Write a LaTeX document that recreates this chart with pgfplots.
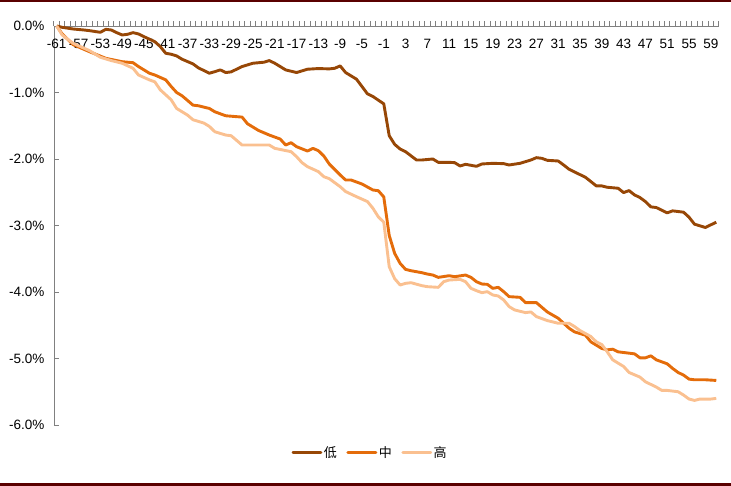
\documentclass[border=0pt]{standalone}
\usepackage{pgfplots}
\pgfplotsset{compat=1.18}
\usepackage{fontspec}
\setmainfont{Liberation Sans}
\newfontfamily\cjk{Noto Sans CJK SC}
\definecolor{cLow}{HTML}{974706}
\definecolor{cMid}{HTML}{E46C0A}
\definecolor{cHigh}{HTML}{FAC090}
\definecolor{frame}{HTML}{5A0000}
\definecolor{axgray}{HTML}{808080}
\begin{document}
\begin{tikzpicture}
\path[use as bounding box] (0pt,0pt) rectangle (731pt,486pt);
\draw[frame, line width=2.5pt] (0pt,484.75pt) -- (731pt,484.75pt);
\draw[frame, line width=3pt] (0pt,1.5pt) -- (731pt,1.5pt);
\begin{axis}[
  at={(54pt,61pt)}, anchor=south west,
  scale only axis, width=665pt, height=399pt,
  xmin=-61.5, xmax=60.5, ymin=-6, ymax=0,
  axis x line=top, axis y line=left,
  axis line style={draw=axgray, line width=0.8pt, -},
  clip=false,
  ytick={-6,-5,...,0},
  yticklabels={-6.0\%,-5.0\%,-4.0\%,-3.0\%,-2.0\%,-1.0\%,0.0\%},
  ytick align=inside,
  xtick={-61.5,-60.5,...,60.5},
  xticklabels={-61,{},{},{},-57,{},{},{},-53,{},{},{},-49,{},{},{},-45,{},{},{},-41,{},{},{},-37,{},{},{},-33,{},{},{},-29,{},{},{},-25,{},{},{},-21,{},{},{},-17,{},{},{},-13,{},{},{},-9,{},{},{},-5,{},{},{},-1,{},{},{},3,{},{},{},7,{},{},{},11,{},{},{},15,{},{},{},19,{},{},{},23,{},{},{},27,{},{},{},31,{},{},{},35,{},{},{},39,{},{},{},43,{},{},{},47,{},{},{},51,{},{},{},55,{},{},{},59,{},{}},
  xticklabel style={xshift=2.725pt, yshift=-31pt},
  xtick align=outside,
  every x tick/.style={draw=axgray, line width=1pt},
  major tick length=5pt,
  every y tick/.style={draw=axgray, line width=0.9pt},
  yticklabel style={xshift=-6pt},
  tick label style={font=\fontsize{13.5}{15}\selectfont},
  legend columns=3,
  legend style={draw=none, at={(0.475,-0.07)}, anchor=center,
    font=\cjk\fontsize{13}{15}\selectfont, inner sep=0pt,
    nodes={inner sep=1.5pt},
    /tikz/every even column/.append style={column sep=8pt}},
  legend image code/.code={\draw[#1, line cap=round] (0pt,0pt) -- (28pt,0pt);},
  every axis plot/.append style={line width=2.9pt, line join=round, no marks},
]
\addplot[cLow] coordinates {
(-61,0) (-60,-0.02) (-58,-0.045) (-56,-0.06) (-55,-0.07) (-53,-0.095) (-52,-0.05) (-51,-0.06)
(-50,-0.10) (-49,-0.135) (-48,-0.125) (-47,-0.10) (-46,-0.12) (-45,-0.16) (-43,-0.236) (-42,-0.31)
(-41,-0.41) (-40,-0.425) (-39,-0.45) (-38,-0.50) (-36,-0.57) (-35,-0.63) (-33,-0.71) (-32,-0.687)
(-31,-0.66) (-30,-0.70) (-29,-0.69) (-27,-0.61) (-25,-0.56) (-23,-0.545) (-22,-0.52) (-21,-0.56)
(-19,-0.66) (-17,-0.70) (-15,-0.65) (-13,-0.64) (-11,-0.645) (-10,-0.636) (-9,-0.60) (-8,-0.70)
(-6,-0.80) (-4,-1.02) (-3,-1.06) (-1,-1.17) (0,-1.65) (1,-1.78) (2,-1.85) (3,-1.89)
(5,-2.015) (6,-2.015) (8,-2.0) (9,-2.05) (11,-2.05) (12,-2.055) (13,-2.105) (14,-2.08)
(16,-2.11) (17,-2.075) (19,-2.065) (21,-2.07) (22,-2.09) (24,-2.065) (26,-2.015) (27,-1.98)
(28,-1.99) (29,-2.02) (31,-2.03) (32,-2.09) (33,-2.155) (36,-2.275) (38,-2.405) (39,-2.405)
(40,-2.425) (42,-2.44) (43,-2.505) (44,-2.475) (45,-2.54) (46,-2.58) (47,-2.64) (48,-2.72)
(49,-2.73) (51,-2.81) (52,-2.78) (54,-2.80) (55,-2.875) (56,-2.98) (58,-3.03) (59,-2.99) (60,-2.95)
};
\addlegendentry{低}
\addplot[cMid] coordinates {
(-61,0) (-60,-0.12) (-58,-0.28) (-55,-0.386) (-52,-0.486) (-50,-0.52) (-49,-0.537) (-47,-0.552)
(-46,-0.61) (-44,-0.71) (-43,-0.737) (-41,-0.81) (-40,-0.91) (-39,-1.0) (-38,-1.05) (-36,-1.19)
(-35,-1.20) (-33,-1.24) (-32,-1.29) (-30,-1.35) (-27,-1.37) (-26,-1.47) (-24,-1.57) (-22,-1.64)
(-20,-1.70) (-19,-1.79) (-18,-1.755) (-17,-1.815) (-15,-1.88) (-14,-1.84) (-13,-1.875) (-12,-1.955)
(-11,-2.075) (-9,-2.24) (-8,-2.316) (-7,-2.316) (-5,-2.376) (-3,-2.466) (-2,-2.477) (-1,-2.57)
(0,-3.15) (1,-3.42) (2,-3.57) (3,-3.66) (4,-3.68) (6,-3.71) (7,-3.73) (8,-3.745)
(9,-3.78) (11,-3.755) (12,-3.77) (14,-3.745) (15,-3.78) (16,-3.845) (17,-3.88) (18,-3.885)
(19,-3.945) (20,-3.93) (21,-3.995) (22,-4.07) (24,-4.08) (25,-4.16) (27,-4.16) (28,-4.23)
(29,-4.30) (31,-4.395) (33,-4.545) (34,-4.6) (36,-4.65) (37,-4.75) (39,-4.85) (40,-4.87)
(41,-4.86) (42,-4.9) (44,-4.92) (45,-4.93) (46,-4.99) (47,-4.99) (48,-4.96) (49,-5.02)
(51,-5.08) (52,-5.15) (53,-5.21) (54,-5.25) (55,-5.31) (56,-5.32) (58,-5.32) (60,-5.33)
};
\addlegendentry{中}
\addplot[cHigh] coordinates {
(-61,0) (-60,-0.135) (-58,-0.26) (-55,-0.37) (-53,-0.47) (-51,-0.52) (-49,-0.56) (-47,-0.636)
(-46,-0.737) (-44,-0.81) (-43,-0.84) (-42,-0.96) (-40,-1.11) (-39,-1.24) (-37,-1.34) (-36,-1.41)
(-34,-1.46) (-33,-1.51) (-32,-1.59) (-30,-1.64) (-29,-1.65) (-27,-1.79) (-25,-1.79) (-22,-1.79)
(-21,-1.84) (-18,-1.89) (-17,-1.965) (-16,-2.055) (-15,-2.115) (-13,-2.19) (-12,-2.266) (-11,-2.296)
(-9,-2.416) (-8,-2.49) (-6,-2.567) (-4,-2.64) (-3,-2.74) (-2,-2.87) (-1,-2.95) (0,-3.62)
(1,-3.80) (2,-3.895) (3,-3.87) (4,-3.86) (6,-3.905) (7,-3.92) (9,-3.93) (10,-3.845)
(11,-3.82) (13,-3.81) (14,-3.845) (15,-3.945) (16,-3.98) (17,-4.01) (18,-3.995) (19,-4.045)
(20,-4.06) (21,-4.12) (22,-4.22) (23,-4.27) (25,-4.31) (26,-4.30) (27,-4.37) (29,-4.43)
(30,-4.45) (31,-4.47) (33,-4.47) (34,-4.52) (35,-4.58) (37,-4.67) (38,-4.75) (39,-4.79)
(40,-4.9) (41,-5.02) (43,-5.12) (44,-5.21) (46,-5.28) (47,-5.35) (49,-5.43) (50,-5.48)
(51,-5.48) (53,-5.5) (54,-5.55) (55,-5.61) (56,-5.63) (57,-5.61) (59,-5.61) (60,-5.6)
};
\addlegendentry{高}
\end{axis}
\end{tikzpicture}
\end{document}
